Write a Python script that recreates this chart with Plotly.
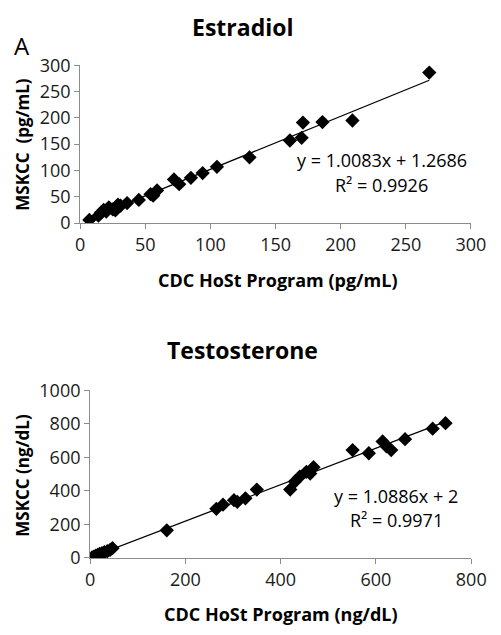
import plotly.graph_objects as go

# Estradiol (pg/mL)
e2_cdc = [7, 14, 16, 18, 20, 22, 25, 27, 29, 31, 36, 45, 54, 56, 59, 72, 76, 85, 94, 105, 130, 161, 170, 171, 186, 209, 268]
e2_mskcc = [6, 14, 20, 25, 22, 30, 26, 24, 35, 33, 38, 44, 55, 52, 62, 83, 74, 86, 95, 107, 125, 157, 162, 191, 192, 195, 286]
e2_slope, e2_int, e2_r2 = 1.0083, 1.2686, 0.9926

# Testosterone (ng/dL)
t_cdc = [4, 8, 12, 16, 20, 25, 30, 36, 42, 47, 161, 265, 279, 302, 309, 326, 350, 420, 430, 440,
         454, 462, 469, 551, 585, 614, 622, 632, 661, 719, 746]
t_mskcc = [3, 8, 14, 18, 24, 28, 34, 40, 48, 58, 165, 293, 318, 345, 335, 356, 408, 408, 456, 485,
           514, 504, 542, 644, 625, 696, 667, 644, 709, 772, 805]
t_slope, t_int, t_r2 = 1.0886, 2, 0.9971

x_ticks_top = [0, 50, 100, 150, 200, 250, 300]
y_ticks_top = [0, 50, 100, 150, 200, 250, 300]
x_ticks_bot = [0, 200, 400, 600, 800]
y_ticks_bot = [0, 200, 400, 600, 800, 1000]

W, H = 501, 635
OFF = 8  # page body margin of the browser
FONT = "Open Sans"
AX = "#8c8c8c"

fig = go.Figure()

def fit_line(xs, m, b):
    lo, hi = min(xs), max(xs)
    return [lo, hi], [m * lo + b, m * hi + b]

lx, ly = fit_line(e2_cdc, e2_slope, e2_int)
fig.add_trace(go.Scatter(x=lx, y=ly, mode="lines", line=dict(color="black", width=1.3),
                         xaxis="x", yaxis="y", showlegend=False, hoverinfo="skip"))
fig.add_trace(go.Scatter(x=e2_cdc, y=e2_mskcc, mode="markers",
                         marker=dict(symbol="diamond", size=11, color="black"),
                         xaxis="x", yaxis="y", showlegend=False))

lx, ly = fit_line([0] + t_cdc, t_slope, t_int)
fig.add_trace(go.Scatter(x=lx, y=ly, mode="lines", line=dict(color="black", width=1.3),
                         xaxis="x2", yaxis="y2", showlegend=False, hoverinfo="skip"))
fig.add_trace(go.Scatter(x=t_cdc, y=t_mskcc, mode="markers",
                         marker=dict(symbol="diamond", size=11, color="black"),
                         xaxis="x2", yaxis="y2", showlegend=False))

def px_x(p):
    return (p - OFF) / W

def px_y(p):
    return 1 - (p - OFF) / H

axis_common = dict(showgrid=False, zeroline=False, showline=True, linecolor=AX, linewidth=1,
                   ticks="outside", tickcolor=AX, ticklen=5, tickwidth=1,
                   tickfont=dict(family=FONT, size=18, color="#1a1a1a"), fixedrange=True)

fig.update_layout(
    width=W, height=H, margin=dict(l=0, r=0, t=0, b=0),
    paper_bgcolor="white", plot_bgcolor="white",
    xaxis=dict(domain=[px_x(78), px_x(485)], range=[0, 300], tickvals=x_ticks_top,
               anchor="y", **axis_common),
    yaxis=dict(domain=[px_y(218), px_y(54)], range=[0, 300], tickvals=y_ticks_top,
               anchor="x", **axis_common),
    xaxis2=dict(domain=[px_x(88.3), px_x(485.3)], range=[0, 800], tickvals=x_ticks_bot,
                anchor="y2", **axis_common),
    yaxis2=dict(domain=[px_y(566), px_y(392)], range=[0, 1000], tickvals=y_ticks_bot,
                anchor="x2", **axis_common),
)

def ann(text, x, y, size, bold=False, angle=0):
    fig.add_annotation(text=f"<b>{text}</b>" if bold else text, x=px_x(x), y=px_y(y),
                       xref="paper", yref="paper", showarrow=False, textangle=angle,
                       xanchor="center", yanchor="middle",
                       font=dict(family=FONT, size=size, color="black"))

ann("Estradiol", 247, 14, 23, bold=True)
ann("A", 17, 33, 24)
ann("CDC HoSt Program (pg/mL)", 284, 277, 18, bold=True)
ann("MSKCC \u00a0(pg/mL)", 18, 136, 17, bold=True, angle=-90)
ann(f"y = {e2_slope}x + {e2_int}", 392, 152, 18)
ann(f"R² = {e2_r2}", 392, 178, 18)

ann("Testosterone", 247, 350, 23, bold=True)
ann("CDC HoSt Program (ng/dL)", 287, 624, 18, bold=True)
ann("MSKCC (ng/dL)", 18, 480, 17, bold=True, angle=-90)
ann(f"y = {t_slope}x + {t_int}", 407, 502, 18)
ann(f"R² = {t_r2}", 407, 527, 18)

fig.write_html("out.html")
